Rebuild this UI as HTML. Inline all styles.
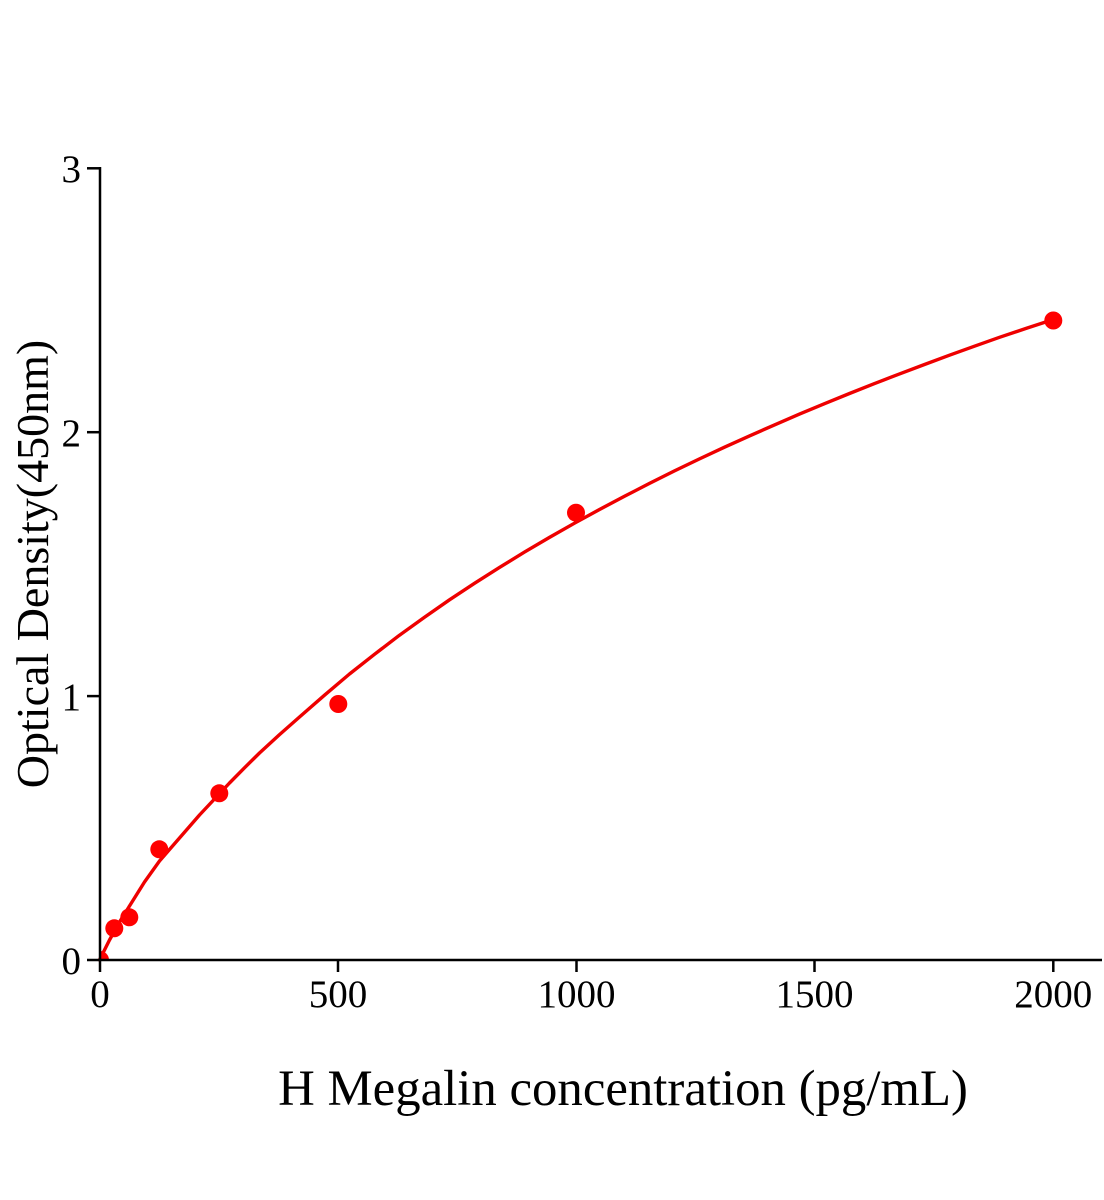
<!DOCTYPE html>
<html>
<head>
<meta charset="utf-8">
<style>
  html, body { margin: 0; padding: 0; background: #ffffff; }
  svg { display: block; }
  text { font-family: "Liberation Serif", "Times New Roman", serif; fill: #000; }
</style>
</head>
<body>
<svg width="1104" height="1200" viewBox="0 0 1104 1200" xmlns="http://www.w3.org/2000/svg">
  <rect x="0" y="0" width="1104" height="1200" fill="#ffffff"/>
  <defs>
    <clipPath id="plot">
      <rect x="100" y="100" width="1004" height="860"/>
    </clipPath>
  </defs>

  <!-- fitted curve -->
  <polyline fill="none" stroke="#ee0000" stroke-width="3.4" stroke-linejoin="round" stroke-linecap="round"
    points="99.5,960 104.5,950 109.5,940 114.5,931 119.5,922 124.5,914 129.5,906 137,894 144.5,882 152,871.5 159.5,861 169.5,849.5 179.5,838 189.5,826.5 199.5,815 214.5,799 229.5,783 244.5,767.8 259.5,753 279.5,734.6 299.5,717 324.5,695.2 349.5,674 374.5,654.3 399.5,635.2 424.5,617.2 449.5,599.8 474.5,583.3 499.5,567.4 524.5,552.1 549.5,537.4 574.5,523.2 599.5,509.5 624.5,496.3 649.5,483.4 674.5,470.9 699.5,458.9 724.5,447.2 749.5,435.9 774.5,424.9 799.5,414.1 824.5,403.7 849.5,393.5 874.5,383.6 899.5,373.9 924.5,364.5 949.5,355.2 974.5,346.2 999.5,337.3 1026.5,328.3 1053.3,319.5"/>

  <!-- data points -->
  <g fill="#ff0000">
    <circle cx="100" cy="960" r="9" clip-path="url(#plot)"/>
    <circle cx="114.3" cy="928.3" r="9"/>
    <circle cx="129.3" cy="917.3" r="9"/>
    <circle cx="159.3" cy="849.3" r="9"/>
    <circle cx="219.3" cy="793.3" r="9"/>
    <circle cx="338.3" cy="704" r="9"/>
    <circle cx="576" cy="512.7" r="9"/>
    <circle cx="1053.3" cy="320.5" r="9"/>
  </g>

  <!-- axes -->
  <g stroke="#000" stroke-width="2.5" fill="none">
    <line x1="100" y1="167" x2="100" y2="961"/>
    <line x1="87" y1="960" x2="1102" y2="960"/>
    <!-- y ticks -->
    <line x1="87" y1="168.3" x2="100" y2="168.3"/>
    <line x1="87" y1="432.2" x2="100" y2="432.2"/>
    <line x1="87" y1="696.1" x2="100" y2="696.1"/>
    <!-- x ticks -->
    <line x1="100" y1="960" x2="100" y2="972"/>
    <line x1="338" y1="960" x2="338" y2="972"/>
    <line x1="576.5" y1="960" x2="576.5" y2="972"/>
    <line x1="814.5" y1="960" x2="814.5" y2="972"/>
    <line x1="1053.3" y1="960" x2="1053.3" y2="972"/>
  </g>

  <!-- y tick labels -->
  <g font-size="39" text-anchor="end">
    <text x="81" y="182">3</text>
    <text x="81" y="446">2</text>
    <text x="81" y="710">1</text>
    <text x="81" y="974">0</text>
  </g>

  <!-- x tick labels -->
  <g font-size="39" text-anchor="middle">
    <text x="100" y="1007">0</text>
    <text x="338" y="1007">500</text>
    <text x="576.5" y="1007">1000</text>
    <text x="814.5" y="1007">1500</text>
    <text x="1053.3" y="1007">2000</text>
  </g>

  <!-- axis titles -->
  <text x="623" y="1105" font-size="50.8" text-anchor="middle">H Megalin concentration (pg/mL)</text>
  <text transform="translate(48,564) rotate(-90)" x="0" y="0" font-size="46" text-anchor="middle">Optical Density(450nm)</text>
</svg>
</body>
</html>
